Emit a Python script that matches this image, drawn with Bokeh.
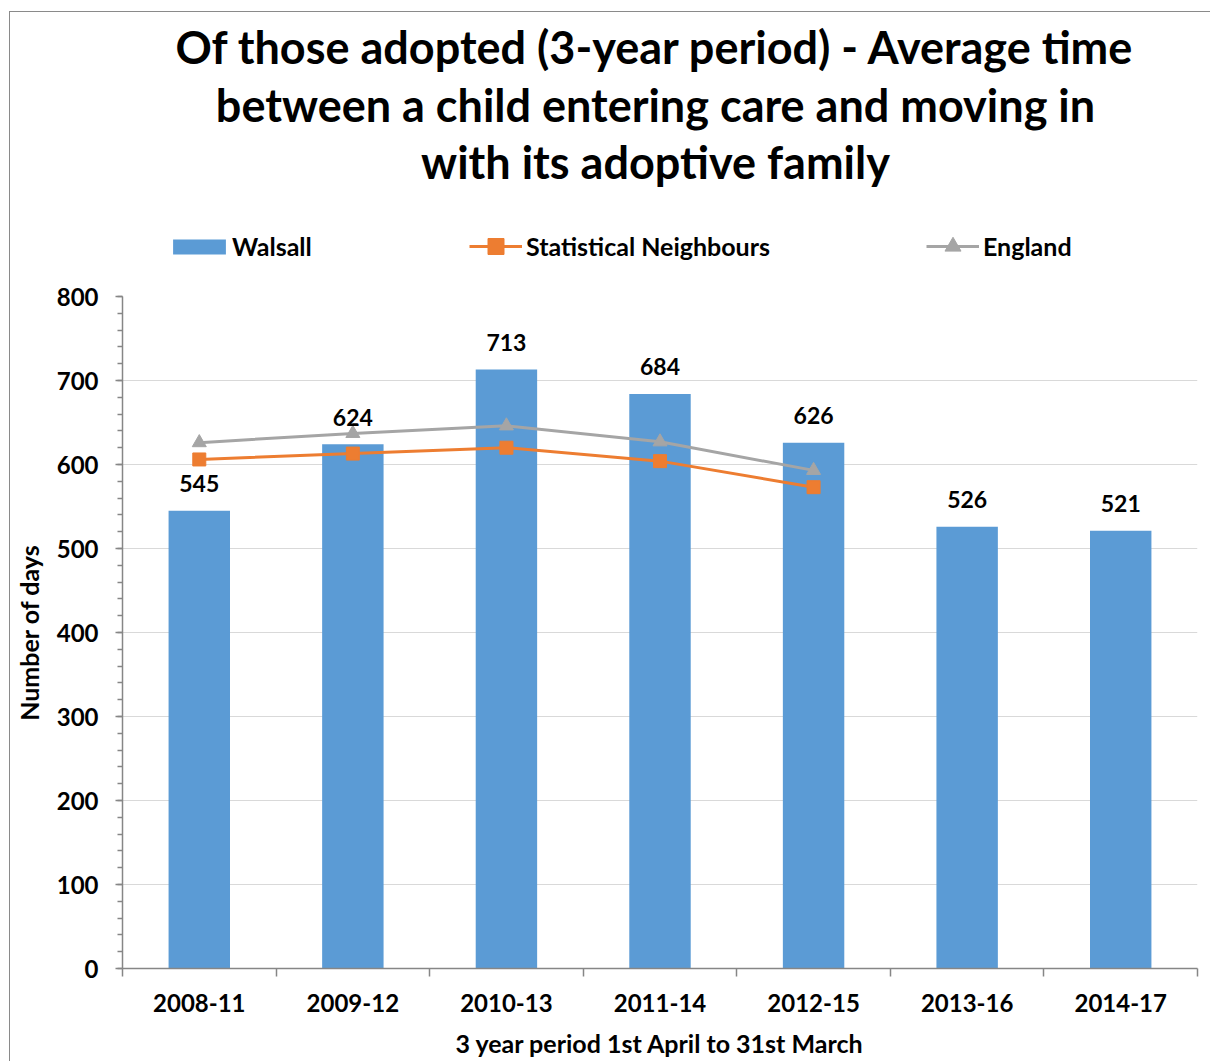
from bokeh.plotting import figure
from bokeh.layouts import column
from bokeh.models import (ColumnDataSource, Legend, LegendItem, LabelSet,
                          FixedTicker, Range1d)
from bokeh.core.properties import value
from bokeh.embed import file_html
from bokeh.resources import INLINE

# ---------------- data ----------------
periods = ["2008-11", "2009-12", "2010-13", "2011-14", "2012-15", "2013-16", "2014-17"]
walsall = [545, 624, 713, 684, 626, 526, 521]
stat_neighbours = [606, 613, 620, 604, 573]
england = [626, 637, 646, 627, 593]
y_ticks = [0, 100, 200, 300, 400, 500, 600, 700, 800]
title_lines = ["Of those adopted (3-year period) - Average time",
               "between a child entering care and moving in",
               "with its adoptive family"]
series_names = ["Walsall", "Statistical Neighbours", "England"]
x_title = "3 year period 1st April to 31st March"
y_title = "Number of days"

FONT = "Lato"
BLUE = "#5B9BD5"
ORANGE = "#ED7D31"
GREY = "#A5A5A5"
AXIS = "#868686"

W = 1200
TOP_H = 264
MAIN_H = 785
BL, BR = 110, 13          # left / right borders shared by both figures
FRAME_W = W - BL - BR

# ---------------- header figure (title + legend) ----------------
hdr = figure(width=W, height=TOP_H, output_backend="svg", toolbar_location=None,
             x_range=Range1d(0, FRAME_W), y_range=Range1d(TOP_H, 0),
             x_axis_type=None, y_axis_type=None,
             min_border_left=BL, min_border_right=BR,
             min_border_top=0, min_border_bottom=0)
hdr.outline_line_color = None
hdr.grid.visible = False

title_src = ColumnDataSource(dict(x=[534, 534, 534], y=[34, 92, 149], text=title_lines))
hdr.text(x="x", y="y", text="text", source=title_src, text_align="center",
         text_baseline="middle", text_font=value(FONT), text_font_style="bold",
         text_font_size="45px", text_color="black")

# legend proxies: styled like the chart's series, holding only a NaN point
nan_src = ColumnDataSource(dict(x=[float("nan")], y=[float("nan")]))
lg_bar = hdr.vbar(x="x", top="y", width=1, source=nan_src, fill_color=BLUE, line_color=None)
lg_sn_l = hdr.line(x="x", y="y", source=nan_src, line_color=ORANGE, line_width=3)
lg_sn_m = hdr.scatter(x="x", y="y", source=nan_src, marker="square", size=13,
                      fill_color=ORANGE, line_color=ORANGE)
lg_en_l = hdr.line(x="x", y="y", source=nan_src, line_color=GREY, line_width=3)
lg_en_m = hdr.scatter(x="x", y="y", source=nan_src, marker="triangle", size=14,
                      fill_color=GREY, line_color=GREY)


def make_legend(name, renderers, loc, gw, gh, standoff):
    leg = Legend(items=[LegendItem(label=name, renderers=renderers)],
                 location=loc, orientation="horizontal",
                 glyph_width=gw, glyph_height=gh, label_standoff=standoff,
                 padding=0, margin=0, border_line_color=None,
                 background_fill_alpha=0, label_height=gh,
                 label_text_font=FONT, label_text_font_style="bold",
                 label_text_font_size="25px", label_text_color="black")
    hdr.add_layout(leg, "center")


make_legend(series_names[0], [lg_bar], (44, 15), 66, 19, 0)
make_legend(series_names[1], [lg_sn_l, lg_sn_m], (347, 10), 53, 40, 4)
make_legend(series_names[2], [lg_en_l, lg_en_m], (804, 10), 53, 40, 4)

# ---------------- main chart ----------------
xs = list(range(len(periods)))

p = figure(width=W, height=MAIN_H, output_backend="svg", toolbar_location=None,
           x_range=Range1d(-0.5, len(periods) - 0.5), y_range=Range1d(0, 800),
           min_border_left=BL, min_border_right=BR, min_border_top=20,
           min_border_bottom=93)
p.outline_line_color = None

bar_src = ColumnDataSource(dict(x=xs, top=walsall, label=[str(v) for v in walsall]))
bars = p.vbar(x="x", top="top", width=0.4, source=bar_src, fill_color=BLUE,
              line_color=None)

sn_x = xs[:len(stat_neighbours)]
en_x = xs[:len(england)]
p.line(sn_x, stat_neighbours, line_color=ORANGE, line_width=3)
p.scatter(sn_x, stat_neighbours, marker="square", size=13,
          fill_color=ORANGE, line_color=ORANGE)
p.line(en_x, england, line_color=GREY, line_width=3)
p.scatter(en_x, england, marker="triangle", size=14,
          fill_color=GREY, line_color=GREY)

labels = LabelSet(x="x", y="top", text="label", source=bar_src, y_offset=27,
                  text_align="center", text_baseline="middle",
                  text_font=value(FONT), text_font_style="bold",
                  text_font_size="23px", text_color="black")
p.add_layout(labels)

p.yaxis.ticker = FixedTicker(ticks=y_ticks, minor_ticks=list(range(0, 801, 20)))
p.yaxis.major_tick_out = 7
p.yaxis.major_tick_in = 0
p.yaxis.minor_tick_out = 5
p.yaxis.minor_tick_in = 0
p.yaxis.major_label_standoff = 17
p.yaxis.axis_label = y_title
p.yaxis.axis_label_standoff = 10

p.xaxis.ticker = FixedTicker(ticks=xs, minor_ticks=[i - 0.5 for i in range(len(periods) + 1)])
p.xaxis.major_label_overrides = {i: s for i, s in enumerate(periods)}
p.xaxis.major_tick_out = 0
p.xaxis.major_tick_in = 0
p.xaxis.minor_tick_out = 8
p.xaxis.minor_tick_in = 0
p.xaxis.major_label_standoff = 17
p.xaxis.axis_label = x_title
p.xaxis.axis_label_standoff = 13

for ax in (p.xaxis, p.yaxis):
    ax.axis_line_color = AXIS
    ax.axis_line_width = 1.5
    ax.major_tick_line_color = AXIS
    ax.minor_tick_line_color = AXIS
    ax.major_tick_line_width = 1.5
    ax.minor_tick_line_width = 1.5
    ax.major_label_text_font = FONT
    ax.major_label_text_font_style = "bold"
    ax.major_label_text_font_size = "24px"
    ax.major_label_text_color = "black"
    ax.axis_label_text_font = FONT
    ax.axis_label_text_font_style = "bold"
    ax.axis_label_text_font_size = "25px"
    ax.axis_label_text_color = "black"

p.xgrid.visible = False
p.ygrid.ticker = FixedTicker(ticks=y_ticks)
p.ygrid.grid_line_color = "#D9D9D9"
p.ygrid.grid_line_width = 1.2

page = column(hdr, p, spacing=0)
page.margin = (11, 0, 0, 9)
page.styles = {"border": "1px solid #8a8a8a"}

open("out.html", "w").write(file_html(page, INLINE))
